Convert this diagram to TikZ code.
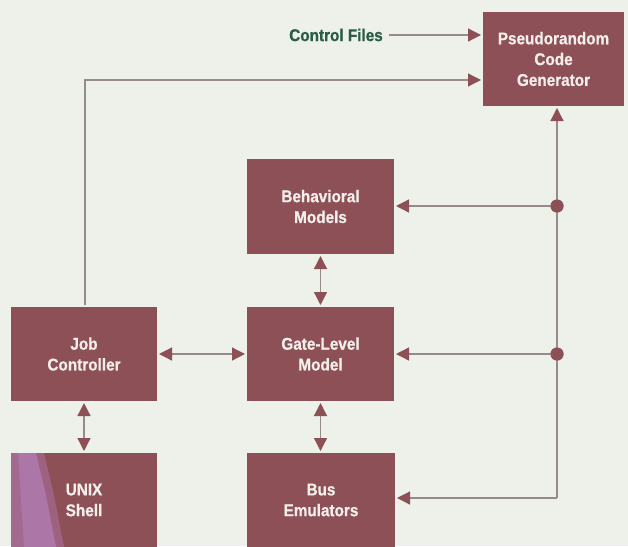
\documentclass[tikz,border=0pt]{standalone}
\usepackage{fontspec}
\usetikzlibrary{arrows.meta}
\newfontfamily\boxfont{Liberation Sans}[FakeStretch=0.9, FakeBold=0.8]
\definecolor{paper}{RGB}{237,241,234}
\definecolor{boxc}{RGB}{141,80,86}
\definecolor{wirec}{RGB}{150,138,138}
\definecolor{labelc}{RGB}{42,92,72}
\definecolor{boxtext}{RGB}{242,238,234}
\definecolor{streak}{RGB}{172,118,166}
\definecolor{streaklight}{RGB}{158,98,128}
\tikzset{
  blkfont/.style={font=\boxfont\bfseries\fontsize{17}{20.8}\selectfont},
  blk/.style={fill=boxc, draw=none, inner sep=0pt, outer sep=2pt,
    text=boxtext, align=center, blkfont},
  wire/.style={draw=wirec, line width=1.3pt},
  tip/.style={-{Triangle[length=13pt,width=13pt,color=boxc]}},
  tips/.style={{Triangle[length=13pt,width=13pt,color=boxc]}-{Triangle[length=13pt,width=13pt,color=boxc]}},
  dot/.style={circle, fill=boxc, minimum size=13pt, inner sep=0pt}
}
\begin{document}
\begin{tikzpicture}[x=1pt, y=-1pt]
  \fill[paper] (0,0) rectangle (628,546);
  \useasboundingbox (0,0) rectangle (628,546);

  % blocks
  \node[blk, minimum width=141pt, minimum height=94pt] (prng) at (553.5,59) {Pseudorandom\\Code\\Generator};
  \node[blk, minimum width=147pt, minimum height=95pt] (beh) at (320.5,206.5) {Behavioral\\Models};
  \node[blk, minimum width=147pt, minimum height=94pt] (gate) at (320.5,354) {Gate-Level\\Model};
  \node[blk, minimum width=146pt, minimum height=94pt] (job) at (84,354) {Job\\Controller};
  \node[blk, minimum width=146pt, minimum height=94pt] (unix) at (84,500) {};
  \node[blk, minimum width=148pt, minimum height=94pt] (bus) at (321,500) {Bus\\Emulators};

  % soft lavender streak across the shell block
  \begin{scope}
    \clip (11,453) rectangle (157,547);
    \fill[streaklight] (11,453) -- (44,453) -- (54,495) -- (64,547) -- (11,547) -- cycle;
    \fill[streak] (11,453) -- (36,453) -- (46,495) -- (56,547) -- (11,547) -- cycle;
    \fill[streaklight, opacity=0.6] (11,453) -- (18,453) -- (24,547) -- (11,547) -- cycle;
  \end{scope}
  \node[text=boxtext, align=center, blkfont] at (unix.center) {UNIX\\Shell};

  % control files input
  \node[text=labelc, blkfont, inner sep=0pt] (ctl) at (336,35) {Control Files};
  \draw[wire, tip] ([xshift=6pt]ctl.east) -- (prng.west |- ctl.east);

  % job controller feeds the generator
  \coordinate (jc) at (85,80);
  \draw[wire, tip] (job.north -| jc) -- (jc) -- (prng.west |- jc);

  % right-hand return bus
  \coordinate (rb) at (557,498);
  \node[dot] (d1) at (557,206) {};
  \node[dot] (d2) at (557,354) {};
  \draw[wire, tip] (rb) -- (prng.south -| rb);
  \draw[wire, tip] (d1.center) -- (beh.east |- d1);
  \draw[wire, tip] (d2.center) -- (gate.east |- d2);
  \draw[wire, tip] (rb) -- (bus.east |- rb);
  \node[dot] at (d1) {};
  \node[dot] at (d2) {};

  % two-way links
  \draw[wire, tips] (job.east) -- (gate.west);
  \draw[wire, tips] (beh.south) -- (gate.north);
  \draw[wire, tips] (gate.south) -- (bus.north -| gate.south);
  \draw[wire, tips] (job.south) -- (unix.north);
\end{tikzpicture}
\end{document}
